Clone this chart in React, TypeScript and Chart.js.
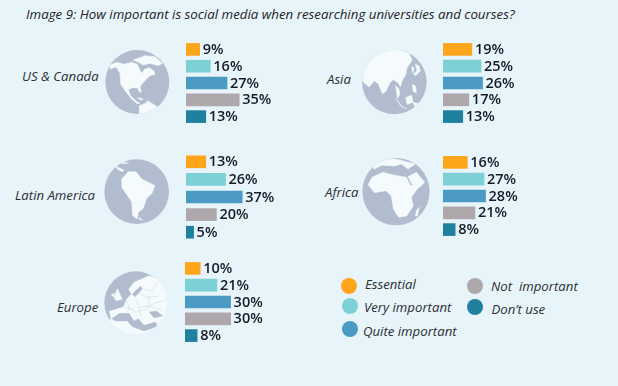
import React, { useEffect, useRef } from "react";
import { Chart, registerables } from "chart.js";

Chart.register(...registerables);

const TITLE = "Image 9: How important is social media when researching universities and courses?";
const RESPONSES = ["Essential", "Very important", "Quite important", "Not  important", "Don’t use"];
const COLORS = ["#ffa51c", "#7dd0d5", "#4b9ac3", "#aea8ad", "#20809f"];

const usCanada = [9, 16, 27, 35, 13];
const asia = [19, 25, 26, 17, 13];
const latinAmerica = [13, 26, 37, 20, 5];
const africa = [16, 27, 28, 21, 8];
const europe = [10, 21, 30, 30, 8];

const PX_PER_UNIT = 1.52;
const CHART_W = 130;
const GREY = "#b1bccf";
const LAND = "#f5fbfd";
const TEXT = "#2b2d33";

const valueLabels = {
  id: "valueLabels",
  afterDatasetsDraw(chart: any) {
    const { ctx } = chart;
    const meta = chart.getDatasetMeta(0);
    const data = chart.data.datasets[0].data;
    ctx.save();
    ctx.font = '600 14.5px "Open Sans"';
    ctx.fillStyle = "#171b28";
    ctx.textBaseline = "middle";
    meta.data.forEach((el: any, i: number) => {
      ctx.fillText(data[i] + "%", el.x + 3, el.y + 0.5);
    });
    ctx.restore();
  },
};

function Bars({ values, left, top, pitch }: { values: number[]; left: number; top: number; pitch: number }) {
  const ref = useRef<HTMLCanvasElement>(null);
  useEffect(() => {
    const chart = new Chart(ref.current!, {
      type: "bar",
      data: {
        labels: RESPONSES,
        datasets: [{ data: values, backgroundColor: COLORS, barThickness: 12, borderWidth: 0 }],
      },
      options: {
        indexAxis: "y",
        animation: false,
        responsive: false,
        layout: { padding: 0 },
        plugins: { legend: { display: false }, tooltip: { enabled: false } },
        scales: {
          x: { display: false, min: 0, max: CHART_W / PX_PER_UNIT },
          y: { display: false },
        },
      },
      plugins: [valueLabels],
    } as any);
    return () => chart.destroy();
  }, []);
  const h = Math.round(pitch * 5);
  return (
    <canvas
      ref={ref}
      width={CHART_W}
      height={h}
      style={{ position: "absolute", left, top: top - (pitch - 12) / 2, width: CHART_W, height: h }}
    />
  );
}

type GlobeProps = {
  left: number; top: number; cx: number; cy: number; r: number;
  base?: string; land?: string[]; seas?: string[]; islands?: string[]; fine?: string[];
};

function Globe({ left, top, cx, cy, r, base = GREY, land = [], seas = [], islands = [], fine = [] }: GlobeProps) {
  const id = `g${left}${top}`;
  return (
    <svg
      width={75}
      height={75}
      viewBox="0 0 225 225"
      style={{ position: "absolute", left, top, filter: "blur(0.35px)" }}
    >
      <clipPath id={id}>
        <circle cx={cx} cy={cy} r={r} />
      </clipPath>
      <circle cx={cx} cy={cy} r={r} fill={base} />
      <g clipPath={`url(#${id})`}>
        {land.map((p, i) => (
          <polygon key={i} points={p} fill={LAND} stroke={LAND} strokeWidth={1.5} strokeLinejoin="round" />
        ))}
        {seas.map((p, i) => (
          <polygon key={i} points={p} fill={GREY} stroke={GREY} strokeWidth={1} strokeLinejoin="round" />
        ))}
        {fine.map((p, i) => (
          <polyline key={i} points={p} fill="none" stroke={GREY} strokeOpacity={0.6} strokeWidth={1.5} />
        ))}
        {islands.map((p, i) => (
          <polygon key={i} points={p} fill={LAND} stroke={LAND} strokeWidth={1} strokeLinejoin="round" />
        ))}
      </g>
    </svg>
  );
}

const usLand = [
  "30,60 50,52 72,58 95,52 112,58 118,72 125,85 135,72 148,68 162,78 165,88 150,92 142,100 130,112 120,125 124,142 118,140 112,128 98,128 85,134 92,152 108,168 120,175 112,176 95,162 76,138 62,117 60,85 48,66 30,72",
  "100,45 135,32 165,35 187,55 175,62 150,55 130,60 112,50",
  "118,182 148,170 178,190 165,215 118,215",
  "112,158 130,162 122,166",
  "138,168 148,170 145,173",
];
const asiaLand = [
  "10,100 20,50 60,15 112,8 155,25 166,45 150,68 146,90 136,106 130,125 124,115 110,104 100,112 86,140 76,146 64,116 52,108 36,126 18,110",
  "116,122 126,132 128,148 122,160 118,140",
  "175,58 186,62 190,78 176,92 170,88 180,76",
  "163,65 172,68 168,85",
  "116,160 135,185 150,192 132,184",
  "146,158 164,150 168,172 150,178",
  "166,118 176,124 178,145 168,138",
  "168,172 190,178 200,190 175,186",
];
const latinLand = [
  "65,72 85,50 108,50 125,72 142,80 165,92 156,115 140,130 130,160 115,172 112,192 98,182 95,140 66,98",
  "45,30 56,38 72,45 66,50 52,42",
  "52,18 85,24 70,26",
  "118,188 128,195 118,194",
];
const africaLand = [
  "30,92 42,70 75,55 102,62 145,70 158,95 188,90 176,108 160,130 166,155 146,186 122,190 106,165 100,126 84,110 50,116",
  "38,22 110,14 172,30 150,45 130,30 110,36 70,34 48,46",
  "150,68 175,55 200,85 185,100 165,96",
  "176,168 184,160 178,186 172,186",
];
const europeSeas = [
  "0,0 225,0 182,40 150,28 105,48 88,70 96,84 82,100 72,122 30,135 35,160 0,160",
  "100,85 108,76 125,60 130,68 120,80 108,92",
  "38,158 62,142 90,142 105,165 118,158 135,178 170,168 175,182 135,195 100,182 85,165 50,165",
  "150,138 172,135 192,150 165,155",
];
const europeIslands = [
  "45,92 55,68 62,82 70,100 50,104",
  "36,86 46,82 44,94",
];
const europeFine = [
  "82,100 90,125 110,138 140,130 170,110 210,100",
  "110,94 120,125 150,120 150,85",
  "72,122 100,130",
  "150,120 190,135",
  "130,68 160,75 175,50",
  "120,80 145,95 180,90",
  "90,125 85,140",
  "120,125 125,150",
];

const regionLabels = [
  { text: "US & Canada", x: 22, y: 77 },
  { text: "Asia", x: 327, y: 80 },
  { text: "Latin America", x: 15, y: 196 },
  { text: "Africa", x: 325, y: 193 },
  { text: "Europe", x: 57, y: 308 },
];

const legendLayout = [
  { cx: 349, cy: 286, x: 365, y: 285 },
  { cx: 349.5, cy: 306, x: 364, y: 308 },
  { cx: 350, cy: 329, x: 363, y: 332 },
  { cx: 475, cy: 286, x: 491, y: 287 },
  { cx: 475, cy: 307, x: 491.5, y: 310 },
];

const italic = (x: number, y: number, size: number): React.CSSProperties => ({
  position: "absolute",
  left: x,
  top: y,
  transform: "translateY(-50%)",
  font: `italic 400 ${size}px/1 "Open Sans"`,
  color: TEXT,
  whiteSpace: "pre",
});

export default function App() {
  return (
    <div style={{ position: "fixed", left: 0, top: 0, width: 618, height: 386, background: "#e7f5fa", overflow: "hidden" }}>
      <div style={{ ...italic(26, 15, 13.3), color: "#1f2126" }}>{TITLE}</div>

      <Globe left={100} top={45} cx={112} cy={111} r={96} land={usLand} />
      <Globe left={357} top={45} cx={112} cy={111} r={97} land={asiaLand} />
      <Globe left={100} top={155} cx={110} cy={110} r={97} land={latinLand} />
      <Globe left={358} top={154} cx={114} cy={113} r={101} land={africaLand} />
      <Globe left={99} top={266} cx={110} cy={110} r={94} base={LAND} seas={europeSeas} islands={europeIslands} fine={europeFine} />

      {regionLabels.map((l) => (
        <div key={l.text} style={italic(l.x, l.y, 13.2)}>{l.text}</div>
      ))}

      <Bars values={usCanada} left={186} top={43} pitch={16.75} />
      <Bars values={asia} left={443} top={43} pitch={16.75} />
      <Bars values={latinAmerica} left={186} top={156} pitch={17.5} />
      <Bars values={africa} left={443} top={156} pitch={16.75} />
      <Bars values={europe} left={185} top={262} pitch={16.75} />

      {RESPONSES.map((r, i) => {
        const p = legendLayout[i];
        return (
          <React.Fragment key={r}>
            <div style={{ position: "absolute", left: p.cx - 8, top: p.cy - 8, width: 16, height: 16, borderRadius: "50%", background: COLORS[i] }} />
            <div style={italic(p.x, p.y, 13.2)}>{r}</div>
          </React.Fragment>
        );
      })}
    </div>
  );
}
